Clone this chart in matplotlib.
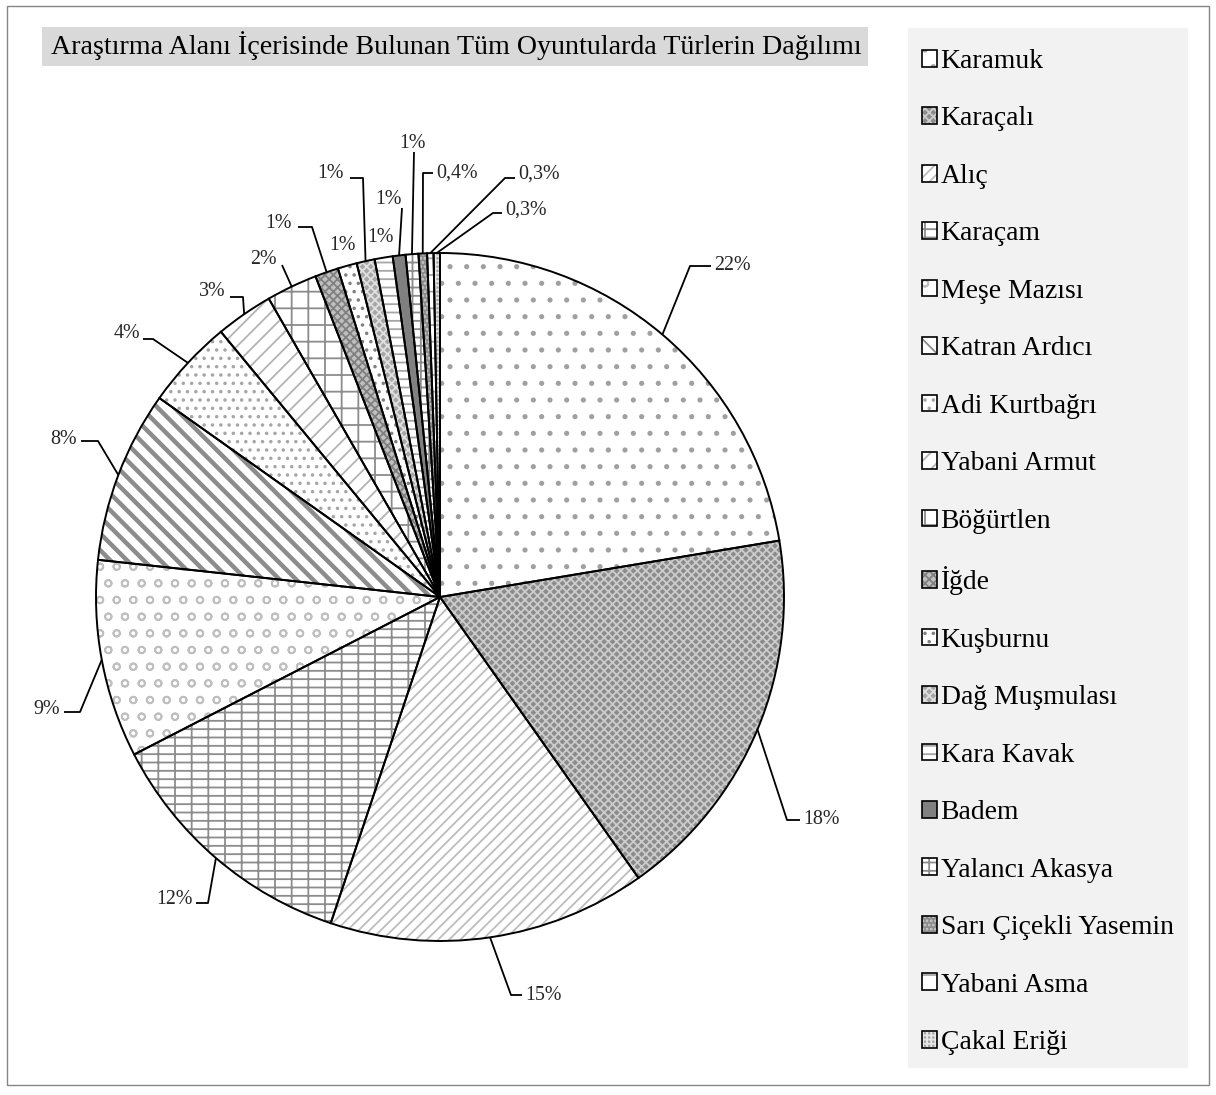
import numpy as np
import matplotlib
matplotlib.use('Agg')
import matplotlib.pyplot as plt
from matplotlib.patches import Patch, Rectangle
from matplotlib.legend_handler import HandlerTuple

plt.rcParams['font.family'] = ['Liberation Serif', 'DejaVu Serif']
plt.rcParams['hatch.linewidth'] = 1.3

title = 'Araştırma Alanı İçerisinde Bulunan Tüm Oyuntularda Türlerin Dağılımı'
species = ['Karamuk', 'Karaçalı', 'Alıç', 'Karaçam', 'Meşe Mazısı', 'Katran Ardıcı',
           'Adi Kurtbağrı', 'Yabani Armut', 'Böğürtlen', 'İğde', 'Kuşburnu',
           'Dağ Muşmulası', 'Kara Kavak', 'Badem', 'Yalancı Akasya',
           'Sarı Çiçekli Yasemin', 'Yabani Asma', 'Çakal Eriği']
shares = [22.4, 17.85, 14.95, 12.3, 9.3, 8.1, 4.2, 2.7, 2.4,
          1.1, 0.9, 0.85, 0.85, 0.6, 0.6, 0.4, 0.3, 0.3]
pct_labels = ['22%', '18%', '15%', '12%', '9%', '8%', '4%', '3%', '2%',
              '1%', '1%', '1%', '1%', '1%', '1%', '0,4%', '0,3%', '0,3%']

# face colour, hatch, hatch colour for every slice
looks = [
    ('white', '.', '#a0a0a0'),        # Karamuk
    ('#8c8c8c', 'xxxx', '#cccccc'),   # Karaçalı
    ('white', '///', '#bdbdbd'),      # Alıç
    ('white', '--|', '#8c8c8c'),      # Karaçam
    ('white', 'o', '#bfbfbf'),        # Meşe Mazısı
    ('white', '\\\\', '#8c8c8c'),     # Katran Ardıcı
    ('white', '..', '#a6a6a6'),       # Adi Kurtbağrı
    ('white', '//', '#b3b3b3'),       # Yabani Armut
    ('white', '+', '#8c8c8c'),        # Böğürtlen
    ('#bfbfbf', 'xxxx', '#808080'),   # İğde
    ('white', '..', '#808080'),       # Kuşburnu
    ('#a6a6a6', 'xxxx', '#e0e0e0'),   # Dağ Muşmulası
    ('white', '--', '#a6a6a6'),       # Kara Kavak
    ('#808080', '', '#808080'),       # Badem
    ('white', '++', '#8c8c8c'),       # Yalancı Akasya
    ('#8c8c8c', '....', '#cccccc'),   # Sarı Çiçekli Yasemin
    ('white', '-', '#a6a6a6'),        # Yabani Asma
    ('#a6a6a6', '++++', '#e6e6e6'),   # Çakal Eriği
]

# where each percentage sits and the bends of its leader (image pixels, y down)
label_at = [(714, 266, 'left'), (803, 820, 'left'), (525, 995, 'left'),
            (193, 900, 'right'), (60, 709, 'right'), (77, 440, 'right'),
            (140, 333, 'right'), (225, 292, 'right'), (277, 259, 'right'),
            (292, 223, 'right'), (342, 246, 'center'), (344, 173, 'right'),
            (380, 237, 'center'), (388, 200, 'center'), (412, 143, 'center'),
            (436, 173, 'left'), (518, 174, 'left'), (505, 210, 'left')]
bends = [[(690, 266), (711, 266)], [(787, 820), (800, 820)], [(511, 995), (522, 995)],
         [(208, 903), (196, 903)], [(80, 712), (64, 712)], [(98, 441), (81, 441)],
         [(153, 339), (143, 339)], [(243, 297), (230, 297)], [(282, 265)],
         [(312, 227), (298, 227)], None, [(363, 178), (350, 178)],
         None, [(402, 208)], [(414, 152)],
         [(423, 173), (433, 173)], [(505, 178), (515, 178)], [(493, 213), (502, 213)]]

W, H = 1216, 1095
fig = plt.figure(figsize=(W / 100, H / 100), dpi=100)
ax = fig.add_axes([0, 0, 1, 1])
cx, cy, R = 440, H - 597, 344

wedges, _ = ax.pie(shares, startangle=90, counterclock=False, center=(cx, cy),
                   radius=R, wedgeprops=dict(linewidth=0))
for w, (fc, h, hc) in zip(wedges, looks):
    w.set_facecolor(fc)
    w.set_edgecolor(hc)
    w.set_hatch(h)
if hasattr(wedges[5], 'set_hatch_linewidth'):
    wedges[5].set_hatch_linewidth(3.2)
ax.pie(shares, startangle=90, counterclock=False, center=(cx, cy), radius=R,
       wedgeprops=dict(fill=False, edgecolor='black', linewidth=1.4))

for i, w in enumerate(wedges):
    ang = np.deg2rad((w.theta1 + w.theta2) / 2)
    ex, ey = cx + R * np.cos(ang), cy + R * np.sin(ang)
    if bends[i]:
        xs = [ex] + [p[0] for p in bends[i]]
        ys = [ey] + [H - p[1] for p in bends[i]]
        ax.plot(xs, ys, color='black', lw=1.3, solid_capstyle='butt')
    tx, ty, ha = label_at[i]
    ax.text(tx, H - ty, pct_labels[i], ha=ha, va='center', fontsize=14.4, color='#262626')

# title strip
ax.add_patch(Rectangle((42, H - 66), 826, 39, facecolor='#d9d9d9', edgecolor='none', zorder=0))
ax.text(456, H - 46, title, ha='center', va='center', fontsize=20.2, color='black')

# legend panel
ax.add_patch(Rectangle((908, H - 1068), 280, 1040, facecolor='#f2f2f2', edgecolor='none', zorder=0))
handles = [(Patch(facecolor=fc, hatch=h, edgecolor=hc, linewidth=0),
            Patch(fill=False, edgecolor='black', linewidth=1.2)) for fc, h, hc in looks]
ax.legend(handles, species, handler_map={tuple: HandlerTuple(ndivide=1, pad=0)},
          loc='upper left', bbox_to_anchor=(922, H - 49), bbox_transform=ax.transData,
          frameon=False, fontsize=19.9, handlelength=0.55, handleheight=0.55,
          handletextpad=0.12, labelspacing=1.175, borderpad=0, borderaxespad=0)

# outer frame
ax.add_patch(Rectangle((7, 10), 1202, 1079, facecolor='none', edgecolor='#868686', lw=1))

ax.set_xlim(0, W)
ax.set_ylim(0, H)
ax.set_aspect('auto')
ax.axis('off')
fig.savefig('out.png', dpi=100)
